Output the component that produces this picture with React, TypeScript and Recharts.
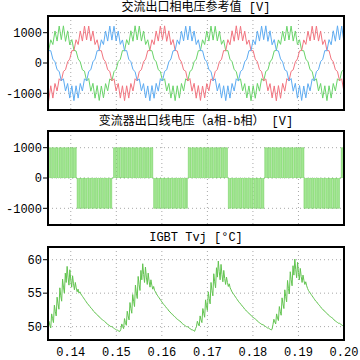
import React from 'react';
import { LineChart, Line, AreaChart, Area, XAxis, YAxis, CartesianGrid } from 'recharts';

const X_TICKS = [0.14, 0.15, 0.16, 0.17, 0.18, 0.19, 0.2];
const X_LABELS = ['0.14', '0.15', '0.16', '0.17', '0.18', '0.19', '0.20'];
const V_TICKS = [-1000, 0, 1000];
const T_TICKS = [50, 55, 60];
const TITLES = ['交流出口相电压参考值 [V]', '变流器出口线电压（a相-b相） [V]', 'IGBT Tvj [°C]'];

// phase voltage references (sampled every 1/2160 s from PH_T0)
const PH_T0 = 0.13468;
const PH_DT = 1 / 2160;
const PH_RED = [
  -751, -1240, -751, -1157, -676, -923, -520, -590, -279, -220, 40, 128, 405, 410, 766, 609, 1056, 723, 1219,
  760, 1219, 723, 1056, 609, 766, 410, 405, 128, 40, -220, -279, -590, -520, -923, -676, -1157, -751, -1240, -751, -1157, -676, -923, -520, -590, -279, -220, 40, 128, 405, 410, 766, 609, 1056, 723, 1219,
  770, 1225, 715, 1060, 600, 772, 415, 398, 135, 35, -225, -270, -595, -512, -930, -670, -1160, -745, -1235, -758, -1150, -680, -918, -525, -585, -284, -214, 45, 122, 410, 402, 770, 602, 1062, 718, 1226,
  755, 1212, 730, 1050, 615, 760, 404, 410, 124, 44, -216, -283, -586, -526, -918, -680, -1152, -756, -1245, -746, -1162, -672, -928, -516, -594, -275, -224, 36, 132, 400, 414, 762, 614, 1050, 728, 1214,
  760, 1219, 723, 1056, 609, 766, 410, 405, 128, 40, -220, -279, -590, -520, -923, -676,
];
const PH_GREEN = [
  405, 410, 766, 609, 1056, 723, 1219,
  770, 1225, 715, 1060, 600, 772, 415, 398, 135, 35, -225, -270, -595, -512, -930, -670, -1160, -745, -1235, -758, -1150, -680, -918, -525, -585, -284, -214, 45, 122, 410, 402, 770, 602, 1062, 718, 1226,
  760, 1219, 723, 1056, 609, 766, 410, 405, 128, 40, -220, -279, -590, -520, -923, -676, -1157, -751, -1240, -751, -1157, -676, -923, -520, -590, -279, -220, 40, 128, 405, 410, 766, 609, 1056, 723, 1219,
  755, 1212, 730, 1050, 615, 760, 404, 410, 124, 44, -216, -283, -586, -526, -918, -680, -1152, -756, -1245, -746, -1162, -672, -928, -516, -594, -275, -224, 36, 132, 400, 414, 762, 614, 1050, 728, 1214,
  760, 1219, 723, 1056, 609, 766, 410, 405, 128, 40, -220, -279, -590, -520, -923, -676, -1157, -751, -1240, -751, -1157, -676, -923, -520, -590, -279, -220, 40,
];
const PH_BLUE = [
  766, 410, 405, 128, 40, -220, -279, -590, -520, -923, -676, -1157, -751, -1240, -751, -1157, -676, -923, -520, -590, -279, -220, 40, 128, 405, 410, 766, 609, 1056, 723, 1219,
  755, 1212, 730, 1050, 615, 760, 404, 410, 124, 44, -216, -283, -586, -526, -918, -680, -1152, -756, -1245, -746, -1162, -672, -928, -516, -594, -275, -224, 36, 132, 400, 414, 762, 614, 1050, 728, 1214,
  760, 1219, 723, 1056, 609, 766, 410, 405, 128, 40, -220, -279, -590, -520, -923, -676, -1157, -751, -1240, -751, -1157, -676, -923, -520, -590, -279, -220, 40, 128, 405, 410, 766, 609, 1056, 723, 1219,
  770, 1225, 715, 1060, 600, 772, 415, 398, 135, 35, -225, -270, -595, -512, -930, -670, -1160, -745, -1235, -758, -1150, -680, -918, -525, -585, -284, -214, 45, 122, 410, 402, 770, 602, 1062, 718, 1226,
  760, 1219, 723, 1056,
];

// line voltage and junction temperature (sampled every 0.2 ms from S_T0)
const S_T0 = 0.135;
const S_DT = 0.0002;
const LINE_AB = [
  1000, 1000, 1000, 0, 1000, 1000, 1000, 0, 1000, 1000, 1000, 0, 1000, 1000, 1000, 0,
  1000, 1000, 1000, 0, 1000, 1000, 1000, 0, 1000, 1000, 1000, 0, 1000, 1000, 1000, 0,
  -1000, -1000, -1000, 0, -1000, -1000, -1000, 0, -1000, -1000, -1000, 0, -1000, -1000, -1000, 0, -1000, -1000, -1000, 0,
  -1000, -1000, -1000, 0, -1000, -1000, -1000, 0, -1000, -1000, -1000, 0, -1000, -1000, -1000, 0, -1000, -1000,
  0, 0,
  1000, 1000, 1000, 0, 1000, 1000, 1000, 0, 1000, 1000, 1000, 0, 1000, 1000, 1000, 0, 1000, 1000, 1000, 0, 1000, 1000, 1000, 0,
  1000, 1000, 1000, 0, 1000, 1000, 1000, 0, 1000, 1000, 1000, 0, 1000, 1000, 1000, 0, 1000, 1000, 1000, 0,
  -1000, -1000, -1000, 0, -1000, -1000, -1000, 0, -1000, -1000, -1000, 0, -1000, -1000, -1000, 0, -1000, -1000, -1000, 0,
  -1000, -1000, -1000, 0, -1000, -1000, -1000, 0, -1000, -1000, -1000, 0, -1000, -1000, -1000, 0, -1000,
  0,
  1000, 1000, 1000, 0, 1000, 1000, 1000, 0, 1000, 1000, 1000, 0, 1000, 1000, 1000, 0, 1000, 1000, 1000, 0,
  1000, 1000, 1000, 0, 1000, 1000, 1000, 0, 1000, 1000, 1000, 0, 1000, 1000, 1000, 0, 1000, 1000, 1000, 0, 1000, 1000, 1000,
  0,
  -1000, -1000, -1000, 0, -1000, -1000, -1000, 0, -1000, -1000, -1000, 0, -1000, -1000, -1000, 0, -1000, -1000, -1000, 0,
  -1000, -1000, -1000, 0, -1000, -1000, -1000, 0, -1000, -1000, -1000, 0, -1000, -1000, -1000, 0, -1000, -1000, -1000,
  0,
  1000, 1000, 1000, 0, 1000, 1000, 1000, 0, 1000, 1000, 1000, 0, 1000, 1000, 1000, 0, 1000, 1000, 1000, 0,
  1000, 1000, 1000, 0, 1000, 1000, 1000, 0, 1000, 1000, 1000, 0, 1000, 1000, 1000, 0, 1000, 1000, 1000, 0, 1000, 1000, 1000,
  -1000, -1000, -1000, 0, -1000, -1000, -1000, 0, -1000, -1000, -1000, 0, -1000, -1000, -1000, 0, -1000, -1000, -1000, 0,
  -1000, -1000, -1000, 0, -1000, -1000, -1000, 0, -1000, -1000, -1000, 0, -1000, -1000, -1000, 0, -1000, -1000, -1000, 0,
  0,
  1000, 1000, 1000, 1000,
];
const TVJ = [
  49.3, 50.8, 50.2, 49.8, 51.9, 51.2, 50.6, 53.2, 52.3, 51.6, 54.4, 53.4, 52.6, 55.8, 54.6, 53.8, 57.1, 55.9, 55.0, 58.0,
  56.6, 59.0, 57.4, 56.2, 58.5, 57.0, 55.9, 57.6, 56.4, 55.5, 56.6, 55.8, 55.2, 55.6, 55.0,
  55.2, 54.9, 54.7, 54.5, 54.3, 54.1, 53.9, 53.7, 53.5, 53.3, 53.2, 53.0, 52.8, 52.7, 52.5, 52.3, 52.2, 52.0, 51.9, 51.8,
  51.6, 51.5, 51.4, 51.2, 51.1, 51.0, 50.9, 50.8, 50.7, 50.5, 50.4, 50.3, 50.2, 50.1, 50.0, 50.0, 49.9, 49.8, 49.7, 49.6,
  49.5, 49.5, 49.4, 49.3,
  49.3, 49.6, 50.4, 50.0, 49.7, 51.2, 50.6, 50.2, 52.3, 51.6, 51.0, 53.6, 52.7, 52.0, 54.8, 53.8, 53.0, 56.2, 55.0, 54.2,
  57.5, 56.3, 55.4, 58.4, 57.0, 59.4, 57.8, 56.6, 58.9, 57.4, 56.3, 58.0, 56.8, 55.9, 57.0, 56.2, 55.6, 56.0, 55.4,
  55.2, 54.9, 54.7, 54.5, 54.3, 54.1, 53.9, 53.7, 53.5, 53.3, 53.2, 53.0, 52.8, 52.7, 52.5, 52.3, 52.2, 52.0, 51.9, 51.8,
  51.6, 51.5, 51.4, 51.2, 51.1, 51.0, 50.9, 50.8, 50.7, 50.5, 50.4, 50.3, 50.2, 50.1, 50.0, 50.0, 49.9, 49.8, 49.7, 49.6,
  49.5, 49.5, 49.4, 49.3,
  49.7, 50.0, 50.8, 50.4, 50.1, 51.6, 51.0, 50.6, 52.7, 52.0, 51.4, 54.0, 53.1, 52.4, 55.2, 54.2, 53.4, 56.6, 55.4, 54.6,
  57.9, 56.7, 55.8, 58.8, 57.4, 59.8, 58.2, 57.0, 59.3, 57.8, 56.7, 58.4, 57.2, 56.3, 57.4, 56.6, 56.0, 56.4, 55.8,
  55.5, 55.2, 55.0, 54.8, 54.6, 54.4, 54.2, 54.0, 53.8, 53.6, 53.5, 53.3, 53.1, 53.0, 52.8, 52.6, 52.5, 52.3, 52.2, 52.1,
  51.9, 51.8, 51.7, 51.5, 51.4, 51.3, 51.2, 51.1, 51.0, 50.8, 50.7, 50.6, 50.5, 50.4, 50.3, 50.3, 50.2, 50.1, 50.0, 49.9,
  49.8, 49.8, 49.7, 49.6, 49.5,
  49.6, 50.3, 51.1, 50.7, 50.4, 51.9, 51.3, 50.9, 53.0, 52.3, 51.7, 54.3, 53.4, 52.7, 55.5, 54.5, 53.7, 56.9, 55.7, 54.9,
  58.2, 57.0, 56.1, 59.1, 57.7, 60.1, 58.5, 57.3, 59.6, 58.1, 57.0, 58.7, 57.5, 56.6, 57.7, 56.9, 56.3, 56.7, 56.1,
  55.7, 55.4, 55.2, 55.0, 54.8, 54.6, 54.4, 54.2, 54.0, 53.8, 53.7, 53.5, 53.3, 53.2, 53.0, 52.8, 52.7, 52.5, 52.4, 52.3,
  52.1, 52.0, 51.9, 51.7, 51.6, 51.5, 51.4, 51.3, 51.2, 51.0, 50.9, 50.8, 50.7, 50.6, 50.5, 50.5, 50.4, 50.3, 50.2, 50.1,
  50.0,
];

const MONO = '"Liberation Mono", "Noto Sans CJK SC", monospace';
const tickStyle = { fontSize: 12, fill: '#000', fontFamily: MONO };
const gridProps = { stroke: '#a8a8a8', strokeDasharray: '1 3' };

function Frame({ top, height }: { top: number; height: number }) {
  return (
    <div
      style={{
        position: 'absolute', left: 47, top, width: 298, height,
        border: '2px solid #000', boxSizing: 'border-box', pointerEvents: 'none',
      }}
    />
  );
}

function Title({ text, top }: { text: string; top: number }) {
  return (
    <div
      style={{
        position: 'absolute', left: 48, width: 296, top, textAlign: 'center',
        fontFamily: MONO, fontSize: 12, lineHeight: '13px', color: '#000', whiteSpace: 'pre',
      }}
    >
      {text}
    </div>
  );
}

export default function App() {
  const topData = PH_RED.map((r, i) => ({ t: PH_T0 + i * PH_DT, r, g: PH_GREEN[i], b: PH_BLUE[i] }));
  const midData = LINE_AB.map((v, j) => ({ t: S_T0 + j * S_DT, v }));
  const botData = TVJ.map((v, j) => ({ t: S_T0 + j * S_DT, v }));
  const xFmt = (v: number) => X_LABELS[X_TICKS.indexOf(v)] ?? String(v);

  return (
    <div style={{ position: 'absolute', left: 0, top: 0, width: 360, height: 360, background: '#fff', overflow: 'hidden' }}>
      <div style={{ position: 'absolute', left: 0, top: 0 }}>
        <LineChart width={360} height={110} data={topData} margin={{ top: 16, right: 16, bottom: 0, left: 0 }}>
          <CartesianGrid {...gridProps} />
          <XAxis dataKey="t" type="number" domain={[0.135, 0.2]} ticks={X_TICKS} allowDataOverflow hide />
          <YAxis type="number" domain={[-1550, 1550]} ticks={V_TICKS} interval={0} width={48} axisLine={false}
            tickSize={5} tickMargin={1} tick={tickStyle} tickLine={{ stroke: '#000' }} allowDataOverflow />
          <Line type="linear" dataKey="g" stroke="#6ad46a" strokeWidth={1} dot={false} isAnimationActive={false} />
          <Line type="linear" dataKey="r" stroke="#f2747f" strokeWidth={1} dot={false} isAnimationActive={false} />
          <Line type="linear" dataKey="b" stroke="#5eacf2" strokeWidth={1} dot={false} isAnimationActive={false} />
        </LineChart>
      </div>
      <div style={{ position: 'absolute', left: 0, top: 110 }}>
        <AreaChart width={360} height={115} data={midData} margin={{ top: 21, right: 16, bottom: 0, left: 0 }}>
          <CartesianGrid {...gridProps} />
          <XAxis dataKey="t" type="number" domain={[0.135, 0.2]} ticks={X_TICKS} allowDataOverflow hide />
          <YAxis type="number" domain={[-1550, 1550]} ticks={V_TICKS} interval={0} width={48} axisLine={false}
            tickSize={5} tickMargin={1} tick={tickStyle} tickLine={{ stroke: '#000' }} allowDataOverflow />
          <Area type="stepAfter" dataKey="v" baseValue={0} stroke="#5cc445" strokeWidth={0.45}
            fill="#a2e792" fillOpacity={1} dot={false} activeDot={false} isAnimationActive={false} />
        </AreaChart>
      </div>
      <div style={{ position: 'absolute', left: 0, top: 225 }}>
        <LineChart width={360} height={135} data={botData} margin={{ top: 22, right: 16, bottom: 0, left: 0 }}>
          <CartesianGrid {...gridProps} />
          <XAxis dataKey="t" type="number" domain={[0.135, 0.2]} ticks={X_TICKS} interval={0} allowDataOverflow
            height={20} axisLine={false} tickLine={false} tickSize={5} tickMargin={2} tick={tickStyle} tickFormatter={xFmt} />
          <YAxis type="number" domain={[48, 61.9]} ticks={T_TICKS} interval={0} width={48} axisLine={false}
            tickSize={5} tickMargin={1} tick={tickStyle} tickLine={{ stroke: '#000' }} allowDataOverflow />
          <Line type="linear" dataKey="v" stroke="#62c450" strokeWidth={1} dot={false} isAnimationActive={false} />
        </LineChart>
      </div>
      <Frame top={15} height={96} />
      <Frame top={130} height={96} />
      <Frame top={246} height={95} />
      <Title text={TITLES[0]} top={2} />
      <Title text={TITLES[1]} top={116} />
      <Title text={TITLES[2]} top={232} />
    </div>
  );
}
